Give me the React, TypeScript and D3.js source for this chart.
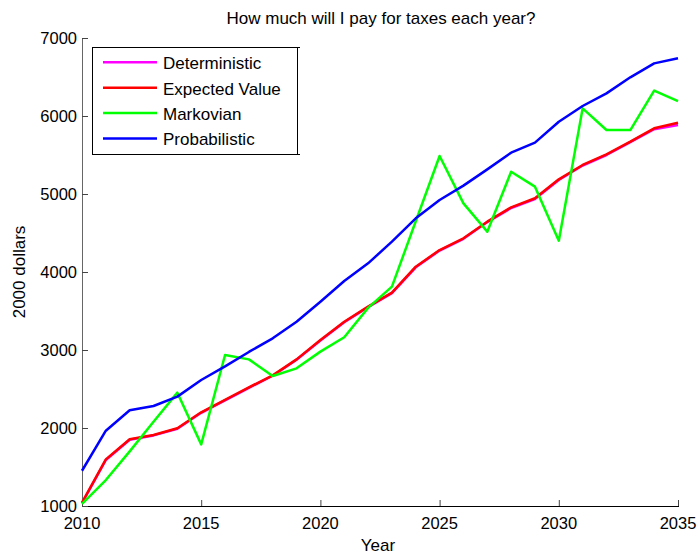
import React from "react";
import * as d3 from "d3";

const years = d3.range(2010, 2036);

const deterministic = [1035, 1590, 1850, 1905, 1990, 2195, 2355, 2515, 2670, 2875, 3120, 3355, 3550, 3730, 4060, 4275, 4425, 4640, 4820, 4935, 5180, 5365, 5500, 5665, 5830, 5885];
const expectedValue = [1042, 1598, 1855, 1910, 1996, 2201, 2360, 2521, 2675, 2880, 3128, 3363, 3556, 3735, 4068, 4282, 4432, 4645, 4829, 4945, 5188, 5372, 5509, 5671, 5842, 5914];
const markovian = [1026, 1333, 1700, 2080, 2453, 1790, 2936, 2880, 2667, 2765, 2979, 3163, 3540, 3812, 4650, 5487, 4880, 4517, 5286, 5094, 4401, 6098, 5820, 5820, 6325, 6192];
const probabilistic = [1452, 1965, 2227, 2282, 2402, 2615, 2790, 2975, 3150, 3363, 3619, 3885, 4111, 4389, 4688, 4923, 5107, 5316, 5530, 5658, 5927, 6128, 6290, 6496, 6675, 6740];

const seriesNames = ["Deterministic", "Expected Value", "Markovian", "Probabilistic"];
const seriesValues = [deterministic, expectedValue, markovian, probabilistic];
const seriesColors = ["#ff00ff", "#ff0000", "#00ff00", "#0000ff"];

const xTicks = [2010, 2015, 2020, 2025, 2030, 2035];
const yTicks = [1000, 2000, 3000, 4000, 5000, 6000, 7000];

const W = 698;
const H = 554;
const left = 82;
const right = 678;
const top = 38;
const bottom = 506;

export default function App() {
  const x = d3.scaleLinear().domain([2010, 2035]).range([left, right]);
  const y = d3.scaleLinear().domain([1000, 7000]).range([bottom, top]);
  const line = d3
    .line<number>()
    .x((_, i) => x(years[i]))
    .y((d) => y(d));

  const font = "Arial, 'Liberation Sans', Helvetica, sans-serif";
  const tickSize = 16.5;
  const labelSize = 17;

  return (
    <svg
      width={W}
      height={H}
      style={{ position: "absolute", left: 0, top: 0, background: "#fff" }}
      fontFamily={font}
    >
      <rect x={0} y={0} width={W} height={H} fill="#fff" />
      {/* axes */}
      <line x1={left + 0.5} x2={left + 0.5} y1={top} y2={bottom} stroke="#666" strokeWidth={1} />
      <line x1={left} x2={right + 1} y1={bottom + 0.5} y2={bottom + 0.5} stroke="#000" strokeWidth={1} />
      {yTicks.map((t) => (
        <g key={"y" + t}>
          <line x1={left} x2={left + 6} y1={y(t) + 0.5} y2={y(t) + 0.5} stroke="#444" />
          <text x={77} y={y(t)} dy="0.36em" textAnchor="end" fontSize={tickSize} fill="#000">
            {t}
          </text>
        </g>
      ))}
      {xTicks.map((t) => (
        <g key={"x" + t}>
          <line x1={x(t) + 0.5} x2={x(t) + 0.5} y1={bottom} y2={bottom - 6} stroke="#444" />
          <text x={x(t)} y={bottom + 23} textAnchor="middle" fontSize={tickSize} fill="#000">
            {t}
          </text>
        </g>
      ))}
      {/* series */}
      {seriesValues.map((vals, i) => (
        <path
          key={seriesNames[i]}
          d={line(vals) ?? ""}
          fill="none"
          stroke={seriesColors[i]}
          strokeWidth={2.5}
          strokeLinejoin="round"
        />
      ))}
      {/* titles */}
      <text x={381} y={24} textAnchor="middle" fontSize={labelSize} fill="#000">
        How much will I pay for taxes each year?
      </text>
      <text x={378} y={551} textAnchor="middle" fontSize={labelSize} fill="#000">
        Year
      </text>
      <text
        transform={`translate(25, ${(top + bottom) / 2}) rotate(-90)`}
        textAnchor="middle"
        fontSize={labelSize}
        fill="#000"
      >
        2000 dollars
      </text>
      {/* legend */}
      <rect x={92.5} y={47.5} width={205} height={107} fill="#fff" stroke="#000" strokeWidth={1} />
      <line x1={297.5} x2={300} y1={47.5} y2={47.5} stroke="#000" />
      <line x1={297.5} x2={300} y1={154.5} y2={154.5} stroke="#000" />
      {seriesNames.map((name, i) => {
        const ly = 62.3 + i * 25.4;
        return (
          <g key={"lg" + name}>
            <line x1={103} x2={157} y1={ly} y2={ly} stroke={seriesColors[i]} strokeWidth={2.5} />
            <text x={163} y={ly} dy="0.4em" fontSize={labelSize} fill="#000">
              {name}
            </text>
          </g>
        );
      })}
    </svg>
  );
}
